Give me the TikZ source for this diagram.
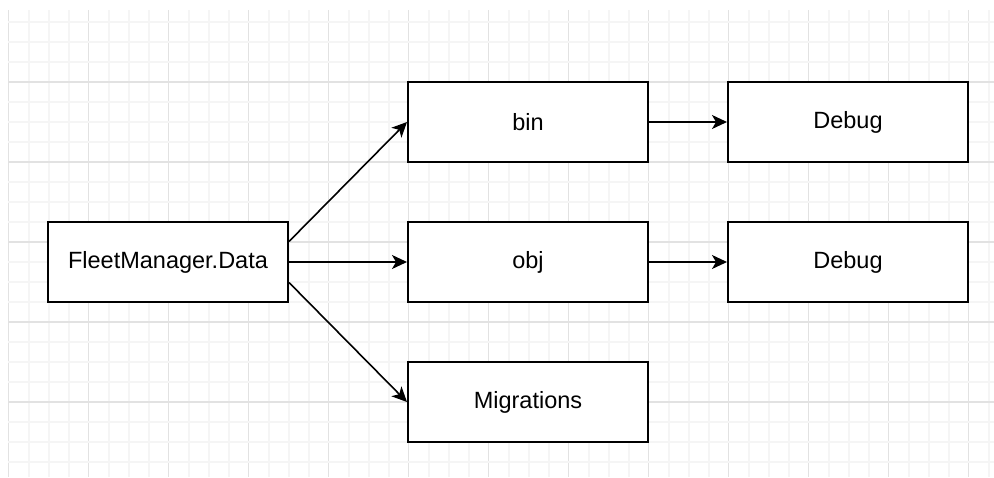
\documentclass[tikz,border=0pt]{standalone}
\usepackage{fontspec}
\setmainfont{Liberation Sans}
\usetikzlibrary{arrows.meta,calc}

\definecolor{gridmajor}{HTML}{E2E2E2}
\definecolor{gridminor}{HTML}{F5F5F5}

\tikzset{
  folder/.style={draw=black, line width=2pt, fill=white,
    minimum width=240pt, minimum height=80pt, inner sep=0pt,
    font=\fontsize{23.5pt}{28pt}\selectfont},
  link/.style={line width=1.6pt, -{Stealth[length=15pt,width=14pt,inset=4pt]}},
}

\begin{document}
\begin{tikzpicture}[x=1pt,y=-1pt]
  \useasboundingbox (0,0) rectangle (994,477);
  \fill[white] (0,0) rectangle (994,477);

  % background grid: minor every 20, major every 80
  \begin{scope}
    \clip (8,10) rectangle (994,477);
    \foreach \k in {0,...,49} {
      \pgfmathtruncatemacro{\m}{mod(\k,4)}
      \ifnum\m=0
        \draw[gridmajor, line width=1.5pt] (8.5+20*\k,10) -- (8.5+20*\k,477);
      \else
        \draw[gridminor, line width=2pt] (8.5+20*\k,10) -- (8.5+20*\k,477);
      \fi
    }
    \foreach \k in {1,...,23} {
      \pgfmathtruncatemacro{\m}{mod(\k,4)}
      \ifnum\m=0
        \draw[gridmajor, line width=1.5pt] (8,2+20*\k) -- (994,2+20*\k);
      \else
        \draw[gridminor, line width=2pt] (8,2+20*\k) -- (994,2+20*\k);
      \fi
    }
  \end{scope}

  % folder boxes
  \node[folder] (fm)   at (168,262) {FleetManager.Data};
  \node[folder] (bin)  at (528,122) {bin};
  \node[folder] (obj)  at (528,262) {obj};
  \node[folder] (mig)  at (528,402) {Migrations};
  \node[folder] (dbg1) at (848,122) {Debug};
  \node[folder] (dbg2) at (848,262) {Debug};

  % connectors
  \draw[link] ($(fm.north east)!0.25!(fm.south east)$) -- (bin.west);
  \draw[link] (fm.east) -- (obj.west);
  \draw[link] ($(fm.north east)!0.75!(fm.south east)$) -- (mig.west);
  \draw[link] (bin.east) -- (dbg1.west);
  \draw[link] (obj.east) -- (dbg2.west);
\end{tikzpicture}
\end{document}
